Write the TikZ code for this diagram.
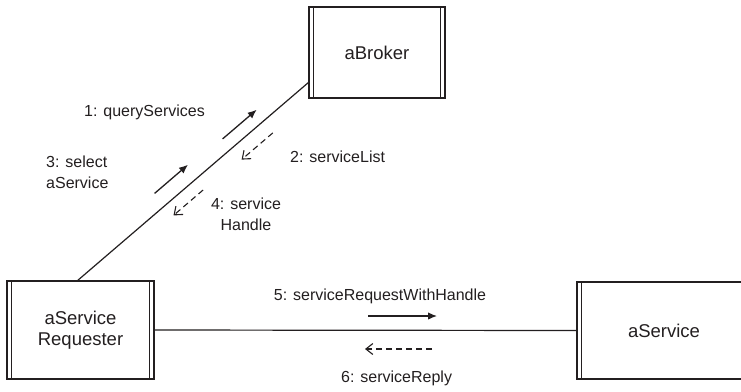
\documentclass[tikz,border=0pt]{standalone}
\usepackage{fontspec}
\setmainfont{Liberation Sans}
\usetikzlibrary{arrows.meta,calc}
\definecolor{ink}{HTML}{231F20}
\begin{document}
\begin{tikzpicture}[x=1bp,y=-1bp,
  obj/.style={draw=ink, line width=1.4bp, inner sep=0pt, outer sep=0pt, text=ink,
    font=\fontsize{18.5bp}{21bp}\selectfont, align=center},
  lbl/.style={text=ink, font=\fontsize{16bp}{21bp}\selectfont, inner sep=0pt},
  link/.style={draw=ink, line width=1.2bp},
  bar/.style={draw=ink, line width=1.4bp},
  msg/.style={draw=ink, line width=1.3bp, -{Latex[length=9bp,width=7.5bp]}},
  ret/.style={draw=ink, line width=1.1bp, dash pattern=on 6bp off 4bp,
    -{Straight Barb[length=7bp,width=11bp]}},
]
\clip (0,0) rectangle (741,391);
\fill[white] (0,0) rectangle (741,391);

% objects
\node[obj, minimum width=136bp, minimum height=91bp] (broker) at (377,52.5) {aBroker};
\node[obj, minimum width=147bp, minimum height=98bp] (req) at (80.5,330) {aService\\Requester};
\node[obj, minimum width=174bp, minimum height=97bp] (svc) at (664,330.5) {aService};

% active-object double edges
\draw[bar] ([xshift=4.5bp]broker.north west) -- ([xshift=4.5bp]broker.south west);
\draw[bar] ([xshift=-4.5bp]broker.north east) -- ([xshift=-4.5bp]broker.south east);
\draw[bar] ([xshift=4.5bp]req.north west) -- ([xshift=4.5bp]req.south west);
\draw[bar] ([xshift=-4.5bp]req.north east) -- ([xshift=-4.5bp]req.south east);
\draw[bar] ([xshift=4.5bp]svc.north west) -- ([xshift=4.5bp]svc.south west);

% links
\draw[link] ([xshift=-3.5bp]req.north) -- ($(broker.south west)+(0,-16)$);
\draw[link] (req.east) -- (svc.west);

% message arrows along the diagonal link
\coordinate (m1a) at (222.6,138.9); \coordinate (m1b) at (256.7,109.7);
\coordinate (m2a) at (272.8,132.9); \coordinate (m2b) at (241.6,159.6);
\coordinate (m3a) at (154.6,193.4); \coordinate (m3b) at (188,164.7);
\coordinate (m4a) at (203.1,190);   \coordinate (m4b) at (173.5,215.4);
\draw[msg] (m1a) -- (m1b);
\draw[ret] (m2a) -- (m2b);
\draw[msg] (m3a) -- (m3b);
\draw[ret] (m4a) -- (m4b);

% message arrows along the horizontal link
\coordinate (m5a) at (368,316); \coordinate (m5b) at (437,316);
\coordinate (m6a) at (432,349); \coordinate (m6b) at (365,349);
\draw[msg] (m5a) -- (m5b);
\draw[ret] (m6a) -- (m6b);

% labels
\node[lbl, anchor=east] (l1) at (205,112) {1: queryServices};
\node[lbl, anchor=west] (l2) at (290,157) {2: serviceList};
\node[lbl, anchor=west, align=left] (l3) at (46,172) {3: select\\aService};
\node[lbl, align=center] (l4) at (246,214) {4: service\\Handle};
\node[lbl] (l5) at (380,296) {5: serviceRequestWithHandle};
\node[lbl, anchor=west] (l6) at (341,378) {6: serviceReply};
\end{tikzpicture}
\end{document}
